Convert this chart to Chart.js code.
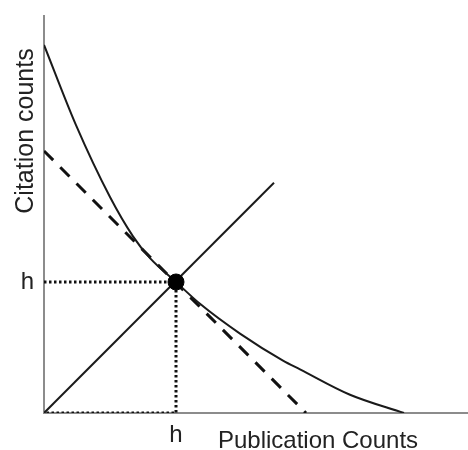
<!DOCTYPE html>
<html>
<head>
<meta charset="utf-8">
<script src="https://cdn.jsdelivr.net/npm/chart.js@4"></script>
<style>
  body { margin: 0; background: #fff; }
  canvas { display: block; }
</style>
</head>
<body>
<canvas id="chart" width="468" height="450"></canvas>
<script>
// values (axis units: x 0..106, y 0..100)
const curveX = [0, 8, 16.5, 22.25, 26.5, 33, 39, 49, 59.75, 64, 76.5, 90];
const curveY = [92.7, 72.5, 54.4, 44.5, 39, 33, 27.5, 20, 13.2, 11, 4.6, 0];
const tangentX = [0, 65.5];
const tangentY = [66, 0];
const diagonalX = [0, 57.5];
const diagonalY = [0, 58];
const hValue = 33;
const hLabel = 'h';
const xTitle = 'Publication Counts';
const yTitle = 'Citation counts';

function toPoints(xs, ys) {
    return xs.map((x, i) => ({ x: x, y: ys[i] }));
}

const dottedX = [0, hValue, hValue, 0];
const dottedY = [hValue, hValue, 0, 0];

const axisTitles = {
    id: 'axisTitles',
    afterDraw(chart) {
        const ctx = chart.ctx;
        ctx.save();
        ctx.fillStyle = '#222';
        ctx.textAlign = 'center';
        ctx.textBaseline = 'alphabetic';
        ctx.font = '24px "Liberation Sans", Arial, sans-serif';
        ctx.fillText(xTitle, 318, 448);
        ctx.translate(33, 131);
        ctx.rotate(-Math.PI / 2);
        ctx.font = '25px "Liberation Sans", Arial, sans-serif';
        ctx.fillText(yTitle, 0, 0);
        ctx.restore();
    }
};

const tickFont = { family: '"Liberation Sans", Arial, sans-serif', size: 24 };

new Chart(document.getElementById('chart'), {
    type: 'scatter',
    plugins: [axisTitles],
    data: {
        datasets: [
            {
                data: [{ x: hValue, y: hValue }],
                backgroundColor: '#000',
                borderColor: '#000',
                pointRadius: 8,
                showLine: false
            },
            {
                data: toPoints(curveX, curveY),
                showLine: true,
                borderColor: '#1a1a1a',
                borderWidth: 2,
                pointRadius: 0,
                cubicInterpolationMode: 'monotone'
            },
            {
                data: toPoints(tangentX, tangentY),
                showLine: true,
                borderColor: '#111',
                borderWidth: 3,
                borderDash: [13, 10],
                pointRadius: 0
            },
            {
                data: toPoints(diagonalX, diagonalY),
                showLine: true,
                borderColor: '#1a1a1a',
                borderWidth: 2,
                pointRadius: 0
            },
            {
                data: toPoints(dottedX, dottedY),
                showLine: true,
                borderColor: '#111',
                borderWidth: 3,
                borderDash: [2.5, 2.5],
                pointRadius: 0
            }
        ]
    },
    options: {
        responsive: false,
        animation: false,
        layout: { autoPadding: false, padding: { top: 16, right: 0, left: 0, bottom: 0 } },
        plugins: {
            legend: { display: false },
            tooltip: { enabled: false }
        },
        scales: {
            x: {
                type: 'linear',
                min: 0,
                max: 106,
                grid: { display: false, drawTicks: false },
                border: { display: true, color: '#8c8c8c', width: 2 },
                afterBuildTicks: scale => { scale.ticks = [{ value: hValue }]; },
                afterFit: scale => {
                    scale.height = 37;
                    scale.paddingLeft = 0;
                    scale.paddingRight = 0;
                },
                ticks: {
                    callback: () => hLabel,
                    color: '#222',
                    font: tickFont,
                    padding: 8,
                    maxRotation: 0
                }
            },
            y: {
                type: 'linear',
                min: 0,
                max: 100,
                grid: { display: false, drawTicks: false },
                border: { display: true, color: '#8c8c8c', width: 2 },
                afterBuildTicks: scale => { scale.ticks = [{ value: hValue }]; },
                afterFit: scale => {
                    scale.width = 44;
                    scale.paddingTop = 0;
                    scale.paddingBottom = 0;
                },
                ticks: {
                    callback: () => hLabel,
                    color: '#222',
                    font: tickFont,
                    padding: 10
                }
            }
        }
    }
});
</script>
</body>
</html>
